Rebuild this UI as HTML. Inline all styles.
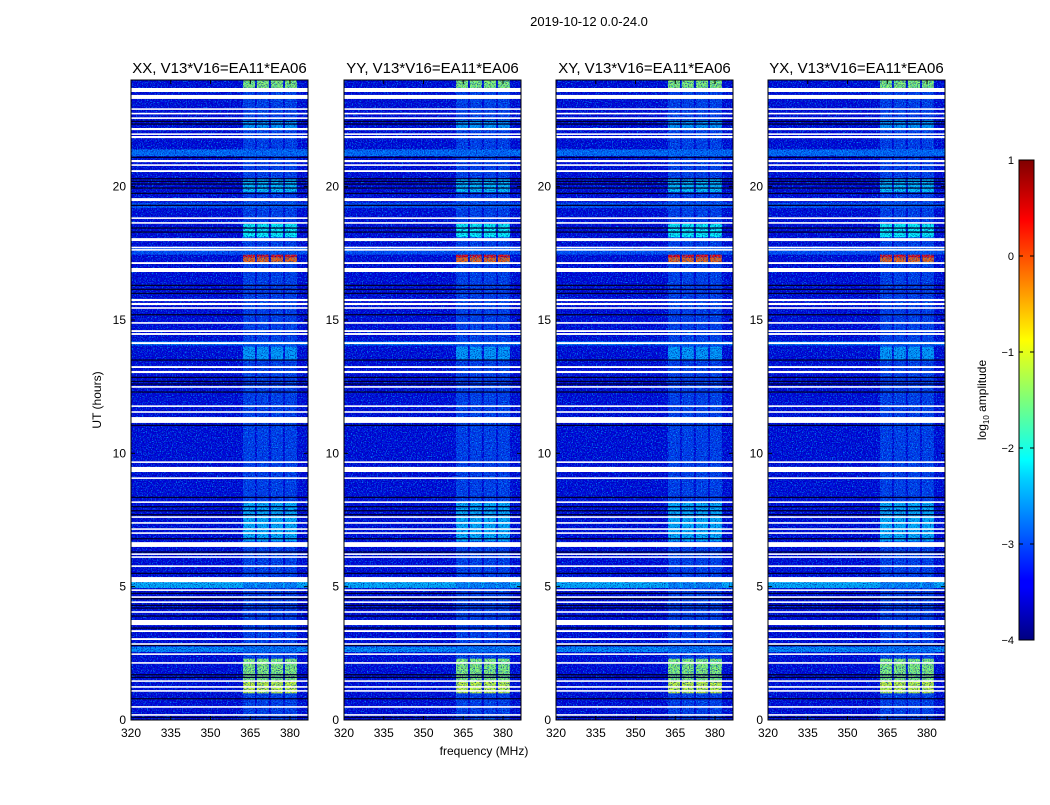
<!DOCTYPE html>
<html><head><meta charset="utf-8"><style>
body{margin:0;background:#fff;width:1050px;height:800px;overflow:hidden}
svg{font-family:"Liberation Sans",sans-serif}
</style></head><body>
<svg id="s" width="1050" height="800" xmlns="http://www.w3.org/2000/svg">
<defs>
<filter id="noise" x="0" y="0" width="100%" height="100%">
<feTurbulence type="fractalNoise" baseFrequency="0.8" numOctaves="1" seed="3" result="t"/>
<feColorMatrix in="t" type="matrix" values="0 0 0 0 0  0 0 0 0 0.55  0 0 0 0 1  2.6 0 0 0 -1.25"/>
</filter>
<filter id="noise2" x="0" y="0" width="100%" height="100%">
<feTurbulence type="fractalNoise" baseFrequency="0.85" numOctaves="1" seed="11" result="t"/>
<feColorMatrix in="t" type="matrix" values="0 0 0 0 0  0 0 0 0 0  0 0 0 0 0.3  2.6 0 0 0 -1.2"/>
</filter>
<linearGradient id="jet" x1="0" y1="1" x2="0" y2="0">
<stop offset="0" stop-color="#000080"/><stop offset="0.11" stop-color="#0000ff"/>
<stop offset="0.125" stop-color="#0000ff"/><stop offset="0.34" stop-color="#00d4ff"/>
<stop offset="0.375" stop-color="#00ffff"/><stop offset="0.5" stop-color="#7dff7a"/>
<stop offset="0.625" stop-color="#ffff00"/><stop offset="0.875" stop-color="#ff0000"/>
<stop offset="1" stop-color="#800000"/>
</linearGradient>
</defs>
<text x="589" y="26" font-size="13" text-anchor="middle">2019-10-12 0.0-24.0</text>
<text x="484" y="755" font-size="12" text-anchor="middle">frequency (MHz)</text>
<text transform="translate(101,400) rotate(-90)" font-size="12" text-anchor="middle">UT (hours)</text>
<g id="cb">
<rect x="1019" y="160" width="15" height="480" fill="url(#jet)" stroke="#000" stroke-width="1"/>
<text transform="translate(986,400) rotate(-90)" font-size="12" text-anchor="middle">log<tspan font-size="8" dy="3">10</tspan><tspan dy="-3"> amplitude</tspan></text>
</g>
</svg>
<script>
// ---- data ----
const panelTitles=["XX, V13*V16=EA11*EA06","YY, V13*V16=EA11*EA06","XY, V13*V16=EA11*EA06","YX, V13*V16=EA11*EA06"];
const xTicks=[320,335,350,365,380];
const yTicks=[0,5,10,15,20];
const cbTicks=[1,0,-1,-2,-3,-4];
const subbands=[[362.3,366.8],[367.5,372],[372.8,377.4],[378.1,382.6]];
const backgroundLevel=-3.55;
const broadband=[[2.55,2.75,-2.7],[4.95,5.2,-2.5],[21.15,21.4,-2.85],[14.05,14.2,-2.8],[17.45,17.7,-3.0],[19.2,19.4,-3.0]];
const subbandLevel=-2.9;
const rfiBlocks=[[23.55,24,-1.4],[22.2,22.5,-2.6],[18.1,18.6,-2.1],[19.8,20.3,-2.4],[17.17,17.35,-0.1],[17.35,17.45,0.4],[1.0,1.45,-1.1],[1.45,2.3,-1.4],[6.7,8.2,-2.5],[13.5,14.0,-2.6]];
const gaps=[[23.55,23.7],[23.29,23.44],[22.88,22.94],[22.71,22.77],[22.54,22.6],[22.12,22.2],[21.94,22.0],[21.82,21.9],[20.92,21.0],[20.78,20.84],[20.55,20.62],[19.46,19.57],[18.79,18.85],[18.61,18.67],[17.96,18.07],[17.69,17.75],[17.6,17.66],[17.1,17.17],[16.8,16.95],[15.71,15.79],[15.56,15.64],[15.42,15.48],[14.86,14.92],[14.55,14.62],[14.44,14.51],[14.1,14.17],[13.2,13.27],[13.01,13.09],[12.46,12.52],[11.74,11.8],[11.52,11.58],[11.14,11.36],[9.64,9.7],[9.3,9.49],[9.04,9.1],[8.14,8.2],[7.58,7.64],[7.36,7.42],[7.13,7.19],[6.98,7.04],[6.49,6.67],[6.19,6.25],[6.08,6.14],[5.74,5.8],[5.17,5.36],[4.84,4.9],[4.58,4.64],[4.39,4.45],[4.02,4.08],[3.56,3.75],[3.3,3.37],[3.0,3.07],[2.82,2.88],[2.44,2.5],[2.11,2.17],[1.43,1.49],[1.21,1.27],[1.06,1.12],[0.46,0.52],[0.16,0.22]];
const darkLines=[22.35,22.45,21.1,20.3,20.2,20.1,19.95,19.75,19.3,18.45,18.3,16.3,16.15,16.0,15.2,13.5,12.85,12.7,12.6,12.3,11.05,8.35,8.0,7.85,7.7,6.8,6.3,5.5,4.75,4.55,4.3,4.2,3.9,3.45,2.8,1.7,1.6,0.8,0.1];
// ---- layout ----
const panelX=[131,344,556,768], PW=177, PT=80, PB=720;
const fMin=320,fMax=386.8,tMin=0,tMax=24;
function jet(v){let t=Math.max(0,Math.min(1,(v+4)/5));
 const c=x=>Math.round(255*Math.max(0,Math.min(1,x)));
 return `rgb(${c(1.5-Math.abs(4*t-3))},${c(1.5-Math.abs(4*t-2))},${c(1.5-Math.abs(4*t-1))})`;}
const NS="http://www.w3.org/2000/svg", svg=document.getElementById('s');
function el(tag,attrs,parent){const e=document.createElementNS(NS,tag);for(const k in attrs)e.setAttribute(k,attrs[k]);(parent||svg).appendChild(e);return e;}
const yS=h=>PB-(h-tMin)/(tMax-tMin)*(PB-PT);
panelX.forEach((px,pi)=>{
 const xS=f=>px+(f-fMin)/(fMax-fMin)*PW;
 const g=el('g',{});
 
 
 const bg=el('rect',{x:px,y:PT,width:PW,height:PB-PT,fill:jet(backgroundLevel)},g);
 
 
 broadband.forEach(b=>{const r=el('rect',{x:px,y:yS(b[1]),width:PW,height:yS(b[0])-yS(b[1]),fill:jet(b[2])},g);
  
  });
 subbands.forEach(s=>{const r=el('rect',{x:xS(s[0]),y:PT,width:xS(s[1])-xS(s[0]),height:PB-PT,fill:jet(subbandLevel),opacity:0.6},g);
  
  });
 rfiBlocks.forEach(b=>subbands.forEach(s=>{const r=el('rect',{x:xS(s[0]),y:yS(b[1]),width:xS(s[1])-xS(s[0]),height:yS(b[0])-yS(b[1]),fill:jet(b[2])},g);
  
  }));
 el('rect',{x:px,y:PT,width:PW,height:PB-PT,filter:'url(#noise)'},g);
 el('rect',{x:px,y:PT,width:PW,height:PB-PT,filter:'url(#noise2)'},g);
 darkLines.forEach(h=>{const r=el('rect',{x:px,y:yS(h)-0.6,width:PW,height:1.3,fill:'#000030'},g);
  
  });
 gaps.forEach(b=>{const r=el('rect',{x:px,y:yS(b[1]),width:PW,height:Math.max(1.2,yS(b[0])-yS(b[1])),fill:'#fff'},g);
  
  });
 el('rect',{x:px,y:PT,width:PW,height:PB-PT,fill:'none',stroke:'#000','stroke-width':1},g);
 const t=el('text',{x:px+PW/2,y:73,'font-size':15,'text-anchor':'middle'},g);t.textContent=panelTitles[pi];
 
 
 xTicks.forEach(f=>{const x=xS(f);
  el('line',{x1:x,x2:x,y1:PB,y2:PB-4,stroke:'#000'},g);el('line',{x1:x,x2:x,y1:PT,y2:PT+4,stroke:'#000'},g);
  const l=el('text',{x:x,y:737,'font-size':12,'text-anchor':'middle'},g);l.textContent=f;
  
  });
 yTicks.forEach(h=>{const y=yS(h);
  el('line',{x1:px,x2:px+4,y1:y,y2:y,stroke:'#000'},g);el('line',{x1:px+PW,x2:px+PW-4,y1:y,y2:y,stroke:'#000'},g);
  const l=el('text',{x:px-5,y:y+4,'font-size':12,'text-anchor':'end'},g);l.textContent=h;
  
  });
});
const cb=document.getElementById('cb');
cbTicks.forEach(v=>{const y=640-(v+4)/5*480;
 el('line',{x1:1019,x2:1023,y1:y,y2:y,stroke:'#000'},cb);el('line',{x1:1034,x2:1030,y1:y,y2:y,stroke:'#000'},cb);
 const l=el('text',{x:1014,y:y+4,'font-size':11,'text-anchor':'end'},cb);l.textContent=v<0?'\u2212'+(-v):v;
 
 });
</script>
</body></html>
